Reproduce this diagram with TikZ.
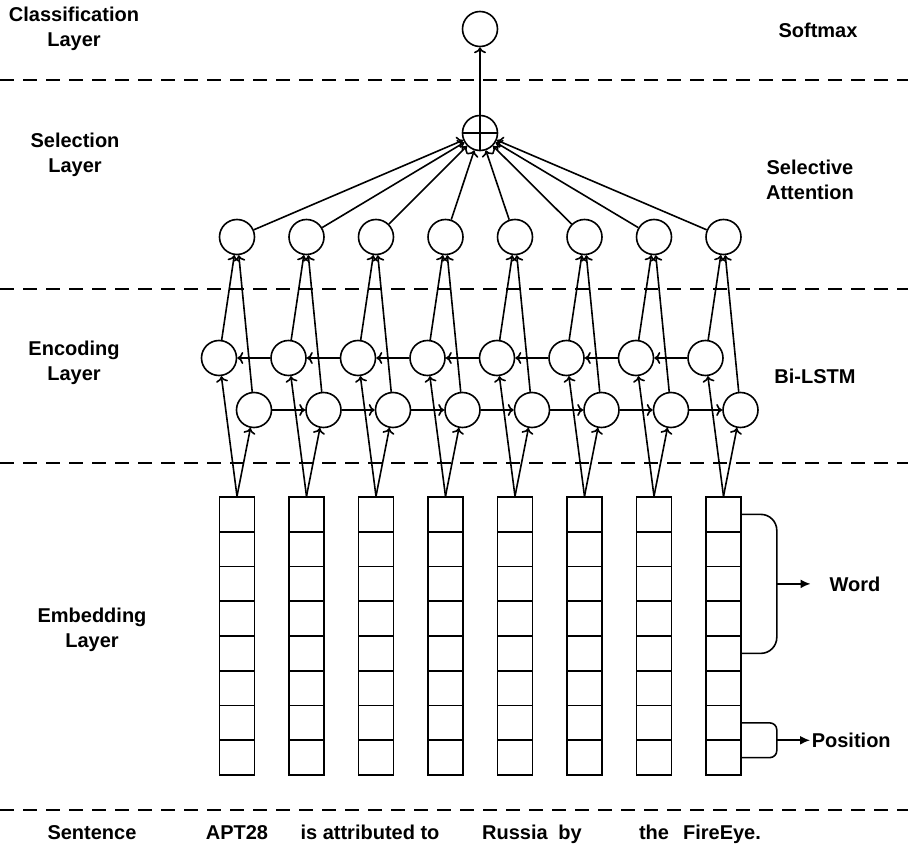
\documentclass[tikz,border=0pt]{standalone}
\usepackage{fontspec}
\setmainfont{Liberation Sans}
\usepackage{tikz}
\usetikzlibrary{arrows.meta,positioning,calc}
\tikzset{
  every picture/.style = {
    line width = 1.6pt,
    >={To[length=6pt,width=12pt]},
    x = 1pt,
    y = -1pt
  }
  ,
  unit/.style = {
    circle,
    draw,
    minimum size = 35pt,
    inner sep = 0pt
  }
  , % cells of the embedding columns
  cell/.style = {
    rectangle,
    draw,
    minimum width = 35pt,
    minimum height = 34.75pt,
    inner sep = 0pt
  }
  , % names of layers and words
  label-layer/.style = {
    font = \fontsize{20}{25}\selectfont\bfseries,
    align = center
  }
  , % dashed separators
  layer-sep/.style = {
    dash pattern = on 14pt off 9pt
  }
  , % arrows to word and position
  part-arrow/.style = {
    -{Latex[length=10pt,width=9pt]}
  }
}

\begin{document}
\begin{tikzpicture}
    \useasboundingbox (0,0) rectangle (908,845);
    \foreach \y in {80,289,463,810}
      \draw[layer-sep] (0,\y) -- (908,\y);
    % classification and selection
    \node[unit] (out) at (480,29) {};
    \node[unit] (sum) at (480,133) {};
    \draw (sum.north) -- (sum.south) (sum.west) -- (sum.east);
    \draw[->] (sum) -- (out);
    % one column per word
    \foreach \i in {1,...,8} {
      \pgfmathsetmacro{\cx}{237+69.5*(\i-1)}
      \node[unit] (s\i) at (\cx,237) {};
      \node[unit] (b\i) at (\cx-18,358) {};
      \node[unit] (f\i) at (\cx+17,410) {};
      \foreach \j in {1,...,8}
        \node[cell] (w\i-\j) at (\cx,{497+34.75*(\j-0.5)}) {};
      \draw[->] (s\i) -- (sum);
      \draw[->] (b\i) -- (s\i);
      \draw[->] (f\i) -- (s\i);
      \draw[->] (w\i-1.north) -- (b\i);
      \draw[->] (w\i-1.north) -- (f\i);
    }
    \foreach \i [evaluate=\i as \n using int(\i+1)] in {1,...,7} {
      \draw[->] (b\n) -- (b\i);
      \draw[->] (f\i) -- (f\n);
    }
    % word and position parts
    \draw[rounded corners=16pt] (w8-1.east) -| ++(35,69.5) coordinate (wmid) |- (w8-5.east);
    \draw[rounded corners=7pt] (w8-7.east) -| ++(35,17.4) coordinate (pmid) |- (w8-8.east);
    \node[label-layer] (word) at (855,584) {Word};
    \node[label-layer, anchor=west, inner sep=1pt] (pos) at (810,740) {Position};
    \draw[part-arrow] (wmid) -- ([xshift=-15pt]wmid -| word.west);
    \draw[part-arrow] (pmid) -- (pmid -| pos.west);
    % layer names
    \node[label-layer] (cls) at (74,29) {Classification\\Layer};
    \node[label-layer] (sel) at (75,155) {Selection\\Layer};
    \node[label-layer] (enc) at (74,363) {Encoding\\Layer};
    \node[label-layer] (emb) at (92,630) {Embedding\\Layer};
    \node[label-layer] (smx) at (818,30) {Softmax};
    \node[label-layer] (att) at (810,180) {Selective\\Attention};
    \node[label-layer] (lstm) at (815,376) {Bi-LSTM};
    % sentence
    \node[label-layer, anchor=base] (snt) at (92,839) {Sentence};
    \node[label-layer, anchor=base] (t1) at (237,839) {APT28};
    \node[label-layer, anchor=base] (t2) at (370,839) {is attributed to};
    \node[label-layer, anchor=base] (t3) at (515,839) {Russia};
    \node[label-layer, anchor=base] (t4) at (570,839) {by};
    \node[label-layer, anchor=base] (t5) at (654,839) {the};
    \node[label-layer, anchor=base] (t6) at (722,839) {FireEye.};
\end{tikzpicture}
\end{document}
